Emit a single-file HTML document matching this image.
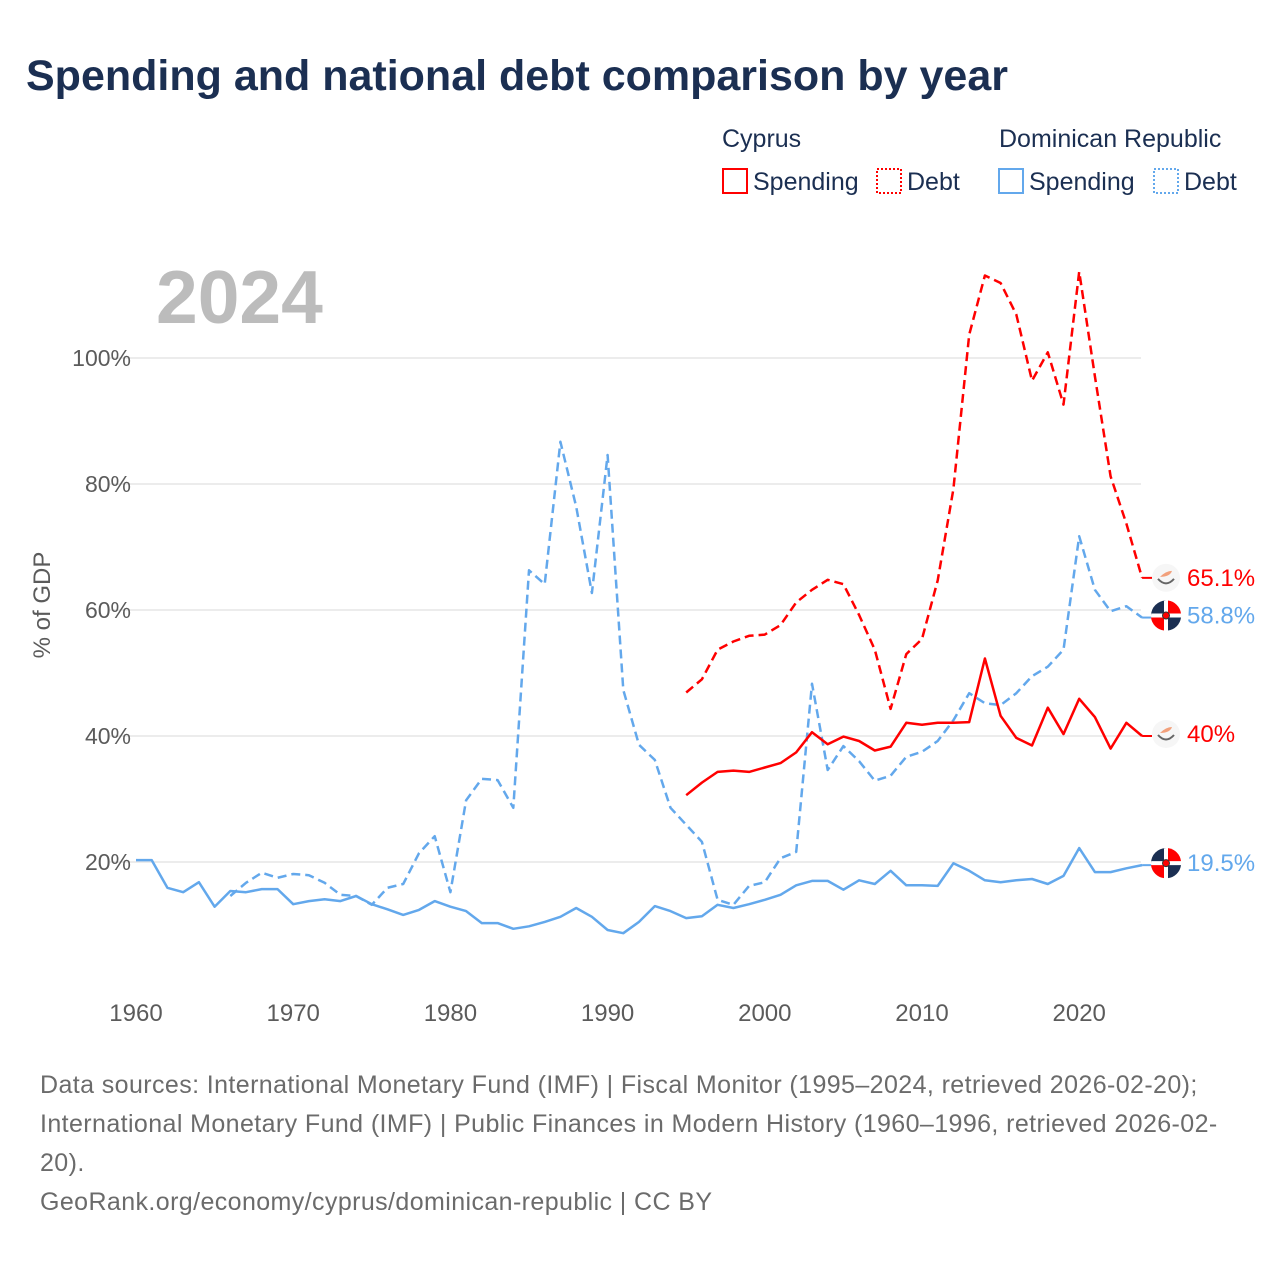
<!DOCTYPE html>
<html><head><meta charset="utf-8">
<style>
body{margin:0;background:#fff;font-family:"Liberation Sans",sans-serif;}
#wrap{position:relative;width:1280px;height:1280px;overflow:hidden;}
h1{position:absolute;left:26px;top:52px;margin:0;font-size:43px;font-weight:bold;color:#1b2f52;letter-spacing:0px;}
.foot{position:absolute;left:40px;top:1066px;width:1230px;font-size:25px;letter-spacing:0.4px;line-height:39px;color:#6b6b6b;white-space:nowrap;}
</style></head><body>
<div id="wrap">
<h1>Spending and national debt comparison by year</h1>
<svg id="chart" width="1280" height="1280" style="position:absolute;left:0;top:0"></svg>
<div class="foot">Data sources: International Monetary Fund (IMF) | Fiscal Monitor (1995–2024, retrieved 2026-02-20);<br>International Monetary Fund (IMF) | Public Finances in Modern History (1960–1996, retrieved 2026-02-<br>20).<br>GeoRank.org/economy/cyprus/dominican-republic | CC BY</div>
</div>
<script>
const yTicks=[20,40,60,80,100];
const xTicks=[1960,1970,1980,1990,2000,2010,2020];
const drSpendStart=1960;
const drSpend=[20.3,20.3,15.9,15.2,16.8,12.9,15.4,15.2,15.7,15.7,13.3,13.8,14.1,13.8,14.6,13.3,12.5,11.6,12.4,13.8,12.9,12.2,10.3,10.3,9.4,9.8,10.5,11.3,12.7,11.3,9.2,8.7,10.5,13.0,12.2,11.1,11.4,13.2,12.7,13.3,14.0,14.8,16.3,17.0,17.0,15.6,17.1,16.5,18.6,16.3,16.3,16.2,19.8,18.6,17.1,16.8,17.1,17.3,16.5,17.8,22.2,18.4,18.4,19.0,19.5];
const drDebtStart=1966;
const drDebt=[14.6,16.7,18.3,17.5,18.1,17.9,16.7,14.8,14.6,13.2,15.9,16.5,21.4,24.1,15.2,29.8,33.2,33.0,28.6,66.3,64.1,86.7,76.4,62.7,84.6,47.3,38.6,36.2,28.6,25.9,23.2,14.0,13.2,16.2,16.8,20.6,21.6,48.3,34.6,38.4,36.0,32.9,33.7,36.7,37.5,39.2,42.5,46.8,45.2,44.9,46.8,49.5,51.0,53.7,71.7,63.2,59.8,60.6,58.8];
const cySpendStart=1995;
const cySpend=[30.6,32.6,34.3,34.5,34.3,35.0,35.7,37.4,40.6,38.7,39.9,39.2,37.7,38.3,42.1,41.8,42.1,42.1,42.2,52.3,43.2,39.7,38.5,44.5,40.3,45.9,43.0,38.0,42.1,40.0];
const cyDebtStart=1995;
const cyDebt=[46.9,49.0,53.7,55.0,55.9,56.1,57.6,61.2,63.2,64.8,64.1,59.2,53.7,44.3,53.0,55.4,64.7,79.2,103.7,113.1,111.9,106.9,96.4,100.9,92.6,113.7,97.1,81.2,73.7,65.1];

const svg=document.getElementById('chart');
const NS='http://www.w3.org/2000/svg';
const X=yr=>136+(yr-1960)*15.72;
const Y=v=>988-v*6.3;
function mk(tag,attrs,parent){const e=document.createElementNS(NS,tag);for(const k in attrs)e.setAttribute(k,attrs[k]);(parent||svg).appendChild(e);return e;}
const RED='#ff0000',BLUE='#63a8ec',TXT='#5b5b5b',NAVY='#1b2f52';

yTicks.forEach(t=>{
  const g=mk('line',{x1:110,x2:1141,y1:Y(t),y2:Y(t),stroke:'#e6e6e6','stroke-width':1.5});
  
  
  const l=mk('text',{x:131,y:Y(t)+8,'text-anchor':'end','font-size':23,fill:TXT});
  l.textContent=t+'%';
  
  
});
xTicks.forEach(t=>{
  const l=mk('text',{x:X(t),y:1021,'text-anchor':'middle','font-size':24,fill:TXT});
  l.textContent=t;
  
  
});
const yl=mk('text',{x:0,y:0,transform:'translate(50,605) rotate(-90)','text-anchor':'middle','font-size':24,fill:TXT});
yl.textContent='% of GDP';


const yr=mk('text',{x:156,y:323,'font-size':75,'font-weight':'bold',fill:'#bcbcbc'});
yr.textContent='2024';



function series(arr,start,color,dash,name){
  const pts=arr.map((v,i)=>X(start+i).toFixed(1)+','+Y(v).toFixed(1)).join(' ');
  const p=mk('polyline',{points:pts,fill:'none',stroke:color,'stroke-width':2.5,'stroke-linejoin':'round'});
  if(dash)p.setAttribute('stroke-dasharray',dash);
  
  
}
series(drDebt,drDebtStart,BLUE,'9,5','dr-debt-line');
series(drSpend,drSpendStart,BLUE,null,'dr-spending-line');
series(cyDebt,cyDebtStart,RED,'9,5','cy-debt-line');
series(cySpend,cySpendStart,RED,null,'cy-spending-line');

function endLabel(arr,start,color,flag,name,dy){
  const v=arr[arr.length-1];const y=Y(v)+dy;const cx=1166;
  const g=mk('g',{});
  
  
  mk('line',{x1:X(start+arr.length-1),x2:cx-14,y1:Y(v),y2:Y(v),stroke:color,'stroke-width':2},g);
  if(flag==='dr'){
    mk('circle',{cx:cx,cy:y,r:15,fill:'#fff'},g);
    mk('path',{d:`M${cx-15},${y} A15,15 0 0 1 ${cx},${y-15} L${cx-2},${y-15} L${cx-2},${y-2} L${cx-15},${y-2}Z`,fill:NAVY},g);
    mk('path',{d:`M${cx+2},${y-15} A15,15 0 0 1 ${cx+15},${y-2} L${cx+2},${y-2}Z`,fill:RED},g);
    mk('path',{d:`M${cx-15},${y+2} L${cx-2},${y+2} L${cx-2},${y+15} A15,15 0 0 1 ${cx-15},${y+2}Z`,fill:RED},g);
    mk('path',{d:`M${cx+2},${y+2} L${cx+15},${y+2} A15,15 0 0 1 ${cx+2},${y+15}Z`,fill:NAVY},g);
    mk('circle',{cx:cx,cy:y,r:3.5,fill:RED,stroke:'#333','stroke-width':1},g);
  }else{
    mk('circle',{cx:cx,cy:y,r:14,fill:'#f6f6f6'},g);
    mk('path',{d:`M${cx-6},${y-1} q6,-6 12,-6 q-2,6 -12,6z`,fill:'#f2a07b'},g);
    mk('path',{d:`M${cx-8},${y+1} q8,9 16,0`,fill:'none',stroke:'#666','stroke-width':2},g);
  }
  const t=mk('text',{x:1187,y:y+8,'font-size':24,fill:color},g);
  t.textContent=(Math.round(v*10)/10)+'%';
}
endLabel(cyDebt,cyDebtStart,RED,'cy','cy-debt-end-label',0);
endLabel(drDebt,drDebtStart,BLUE,'dr','dr-debt-end-label',-2);
endLabel(cySpend,cySpendStart,RED,'cy','cy-spending-end-label',-2);
endLabel(drSpend,drSpendStart,BLUE,'dr','dr-spending-end-label',-2);

function legText(x,y,s,name){const t=mk('text',{x:x,y:y,'font-size':25,fill:NAVY});t.textContent=s;}
legText(722,147,'Cyprus','legend-group-cyprus');
legText(999,147,'Dominican Republic','legend-group-dr');
function legItem(x,color,dash,label,name){
  const g=mk('g',{});
  
  
  const r=mk('rect',{x:x,y:169,width:24,height:24,fill:'none',stroke:color,'stroke-width':2},g);
  if(dash)r.setAttribute('stroke-dasharray',dash);
  const t=mk('text',{x:x+30,y:190,'font-size':25,fill:NAVY},g);t.textContent=label;
}
legItem(723,RED,null,'Spending','legend-cy-spending');
legItem(877,RED,'2,2','Debt','legend-cy-debt');
legItem(999,BLUE,null,'Spending','legend-dr-spending');
legItem(1154,BLUE,'2,2','Debt','legend-dr-debt');
</script>
</body></html>
